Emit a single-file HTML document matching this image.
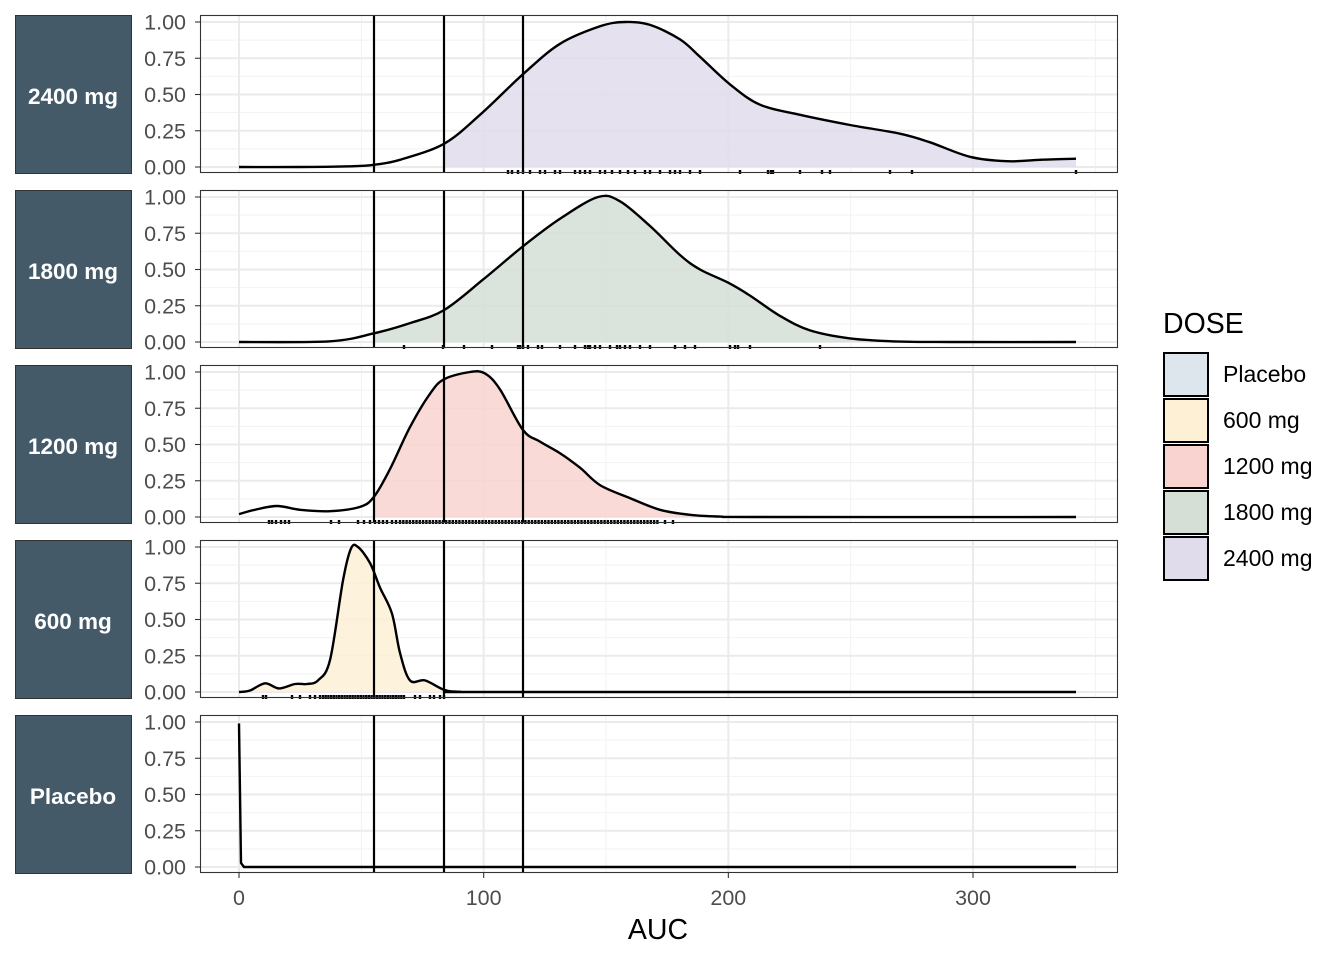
<!DOCTYPE html>
<html><head><meta charset="utf-8"><style>
html,body{margin:0;padding:0;background:#fff;}
svg{display:block;font-family:"Liberation Sans",Arial,sans-serif;}
</style></head><body>
<svg id="s" width="1344" height="960" xmlns="http://www.w3.org/2000/svg"></svg>
<script>
const S=document.getElementById('s');
let h='';
const X=v=>239+v*2.4467;
const px0=200,px1=1118;
const panels=[
 {name:'2400 mg',fill:'#e0dcec',fs:444,fe:1076,
  pts:[[239,0],[300,0],[350,0.005],[374,0.015],[400,0.05],[444,0.16],[480,0.36],[523,0.64],[560,0.85],[600,0.97],[625,1.0],[650,0.98],[680,0.88],[700,0.76],[730,0.57],[760,0.43],[800,0.36],[850,0.29],[900,0.23],[930,0.17],[970,0.07],[1007,0.04],[1040,0.05],[1076,0.057]],
  rug:[508,512,518,523,530,540,545,555,560,575,580,585,590,600,605,612,620,628,635,645,650,660,670,675,680,690,700,740,768,771,773,800,822,830,890,912,1076]},
 {name:'1800 mg',fill:'#d5dfd6',fs:374,fe:1076,
  pts:[[239,0],[330,0.005],[374,0.06],[410,0.13],[444,0.22],[483,0.43],[523,0.66],[560,0.85],[598,1.0],[620,0.97],[650,0.8],[680,0.6],[700,0.5],[728,0.41],[750,0.32],[780,0.18],[810,0.08],[850,0.025],[900,0.003],[950,0],[1076,0]],
  rug:[404,443,464,492,518,520,523,528,538,542,560,575,585,588,590,595,600,610,617,620,625,630,640,650,675,685,695,730,735,738,750,820]},
 {name:'1200 mg',fill:'#f8d3cf',fs:374,fe:1076,
  pts:[[239,0.02],[255,0.05],[277,0.076],[300,0.05],[330,0.04],[360,0.07],[374,0.14],[390,0.33],[410,0.62],[430,0.85],[444,0.95],[470,1.0],[485,0.99],[500,0.88],[523,0.6],[540,0.52],[560,0.44],[580,0.34],[600,0.22],[630,0.13],[660,0.05],[690,0.015],[720,0.003],[760,0],[1076,0]],
  rug:(()=>{let a=[269,272,276,281,285,289,331,339,358,364,370,375,379,383,387,392,396];for(let x=400;x<=660;x+=3.3)a.push(x);a.push(673,665);return a})()},
 {name:'600 mg',fill:'#fdf0d5',fs:239,fe:444,
  pts:[[239,0],[250,0.01],[265,0.06],[279,0.025],[295,0.055],[307,0.055],[318,0.08],[330,0.22],[343,0.77],[351,0.99],[358,1.0],[370,0.89],[380,0.72],[392,0.54],[400,0.27],[410,0.08],[425,0.08],[444,0.015],[460,0.002],[500,0],[1076,0]],
  rug:(()=>{let a=[263,266,292,300,310,315,320];for(let x=323;x<=405;x+=2.7)a.push(x);a.push(415,420,430,434,440,444);return a})()}
];
function path(pts,b){
  let d='M'+pts[0][0]+','+(b-pts[0][1]*145);
  for(let i=0;i<pts.length-1;i++){
    const p0=pts[Math.max(0,i-1)],p1=pts[i],p2=pts[i+1],p3=pts[Math.min(pts.length-1,i+2)];
    const y=p=>b-p[1]*145;
    const c1x=p1[0]+(p2[0]-p0[0])/6,c1y=y(p1)+(y(p2)-y(p0))/6;
    const c2x=p2[0]-(p3[0]-p1[0])/6,c2y=y(p2)-(y(p3)-y(p1))/6;
    d+=` C${c1x.toFixed(1)},${c1y.toFixed(1)} ${c2x.toFixed(1)},${c2y.toFixed(1)} ${p2[0]},${y(p2).toFixed(1)}`;
  }
  return d;
}
const names=['2400 mg','1800 mg','1200 mg','600 mg','Placebo'];
for(let k=0;k<5;k++){
  const p=panels[k];
  const top=15+175*k,bot=top+158,b=167+175*k;
  h+=`<rect x="15.5" y="${top+0.5}" width="116" height="158" fill="#455a68" stroke="#333" stroke-width="1"/>`;
  h+=`<text x="73" y="${top+89}" fill="#fff" font-size="22.5" font-weight="bold" text-anchor="middle">${names[k]}</text>`;
  for(let v=0.125;v<1.1;v+=0.25)h+=`<line x1="${px0}" x2="${px1}" y1="${b-v*145}" y2="${b-v*145}" stroke="#f2f2f2" stroke-width="1"/>`;
  [50,150,250,350].forEach(v=>{const x=X(v);if(x<px1)h+=`<line x1="${x}" x2="${x}" y1="${top}" y2="${bot}" stroke="#f2f2f2" stroke-width="1"/>`});
  for(let v=0;v<=1;v+=0.25)h+=`<line x1="${px0}" x2="${px1}" y1="${b-v*145}" y2="${b-v*145}" stroke="#ebebeb" stroke-width="2"/>`;
  [0,100,200,300].forEach(v=>h+=`<line x1="${X(v)}" x2="${X(v)}" y1="${top}" y2="${bot}" stroke="#ebebeb" stroke-width="2"/>`);
  if(p){
    h+=`<clipPath id="c${k}"><rect x="${p.fs}" y="${top}" width="${p.fe-p.fs}" height="158"/></clipPath>`;
    h+=`<path d="${path(p.pts,b)} L1076,${b} L239,${b} Z" fill="${p.fill}" fill-opacity="0.85" clip-path="url(#c${k})"/>`;
    h+=`<path d="${path(p.pts,b)}" fill="none" stroke="#000" stroke-width="2.4"/>`;
    p.rug.forEach(x=>h+=`<line x1="${x}" x2="${x}" y1="${b+3}" y2="${b+7}" stroke="#000" stroke-width="2.4"/>`);
  } else {
    h+=`<path d="M239,${b-0.99*145} L241,${b-4} L244,${b} L1076,${b}" fill="none" stroke="#000" stroke-width="2.4" stroke-linejoin="round"/>`;
  }
  [374,444,523].forEach(x=>h+=`<line x1="${x}" x2="${x}" y1="${top}" y2="${bot}" stroke="#000" stroke-width="2.2"/>`);
  h+=`<rect x="${px0+0.5}" y="${top+0.5}" width="${px1-px0-1}" height="157" fill="none" stroke="#333" stroke-width="1.1"/>`;
  ['0.00','0.25','0.50','0.75','1.00'].forEach((t,i)=>{const y=b-i*0.25*145;
    h+=`<line x1="195" x2="200" y1="${y}" y2="${y}" stroke="#333" stroke-width="1.1"/>`;
    h+=`<text x="186" y="${y+7.5}" fill="#4d4d4d" font-size="21.5" text-anchor="end">${t}</text>`;});
}
[0,100,200,300].forEach(v=>{const x=X(v);
  h+=`<line x1="${x}" x2="${x}" y1="873" y2="878" stroke="#333" stroke-width="1.1"/>`;
  h+=`<text x="${x}" y="905" fill="#4d4d4d" font-size="21.5" text-anchor="middle">${v}</text>`;});
h+=`<text x="658" y="939" font-size="28.5" text-anchor="middle" fill="#000">AUC</text>`;
h+=`<text x="1163" y="333" font-size="28.5" fill="#000">DOSE</text>`;
[['Placebo','#dce6ec'],['600 mg','#fdf0d5'],['1200 mg','#f8d3cf'],['1800 mg','#d5dfd6'],['2400 mg','#e0dcec']].forEach((l,i)=>{
  const y=353+46*i;
  h+=`<rect x="1164" y="${y}" width="44" height="43" fill="${l[1]}" stroke="#000" stroke-width="2"/>`;
  h+=`<text x="1223" y="${y+29}" font-size="23" fill="#000">${l[0]}</text>`;});
S.innerHTML=h;
</script>
</body></html>
